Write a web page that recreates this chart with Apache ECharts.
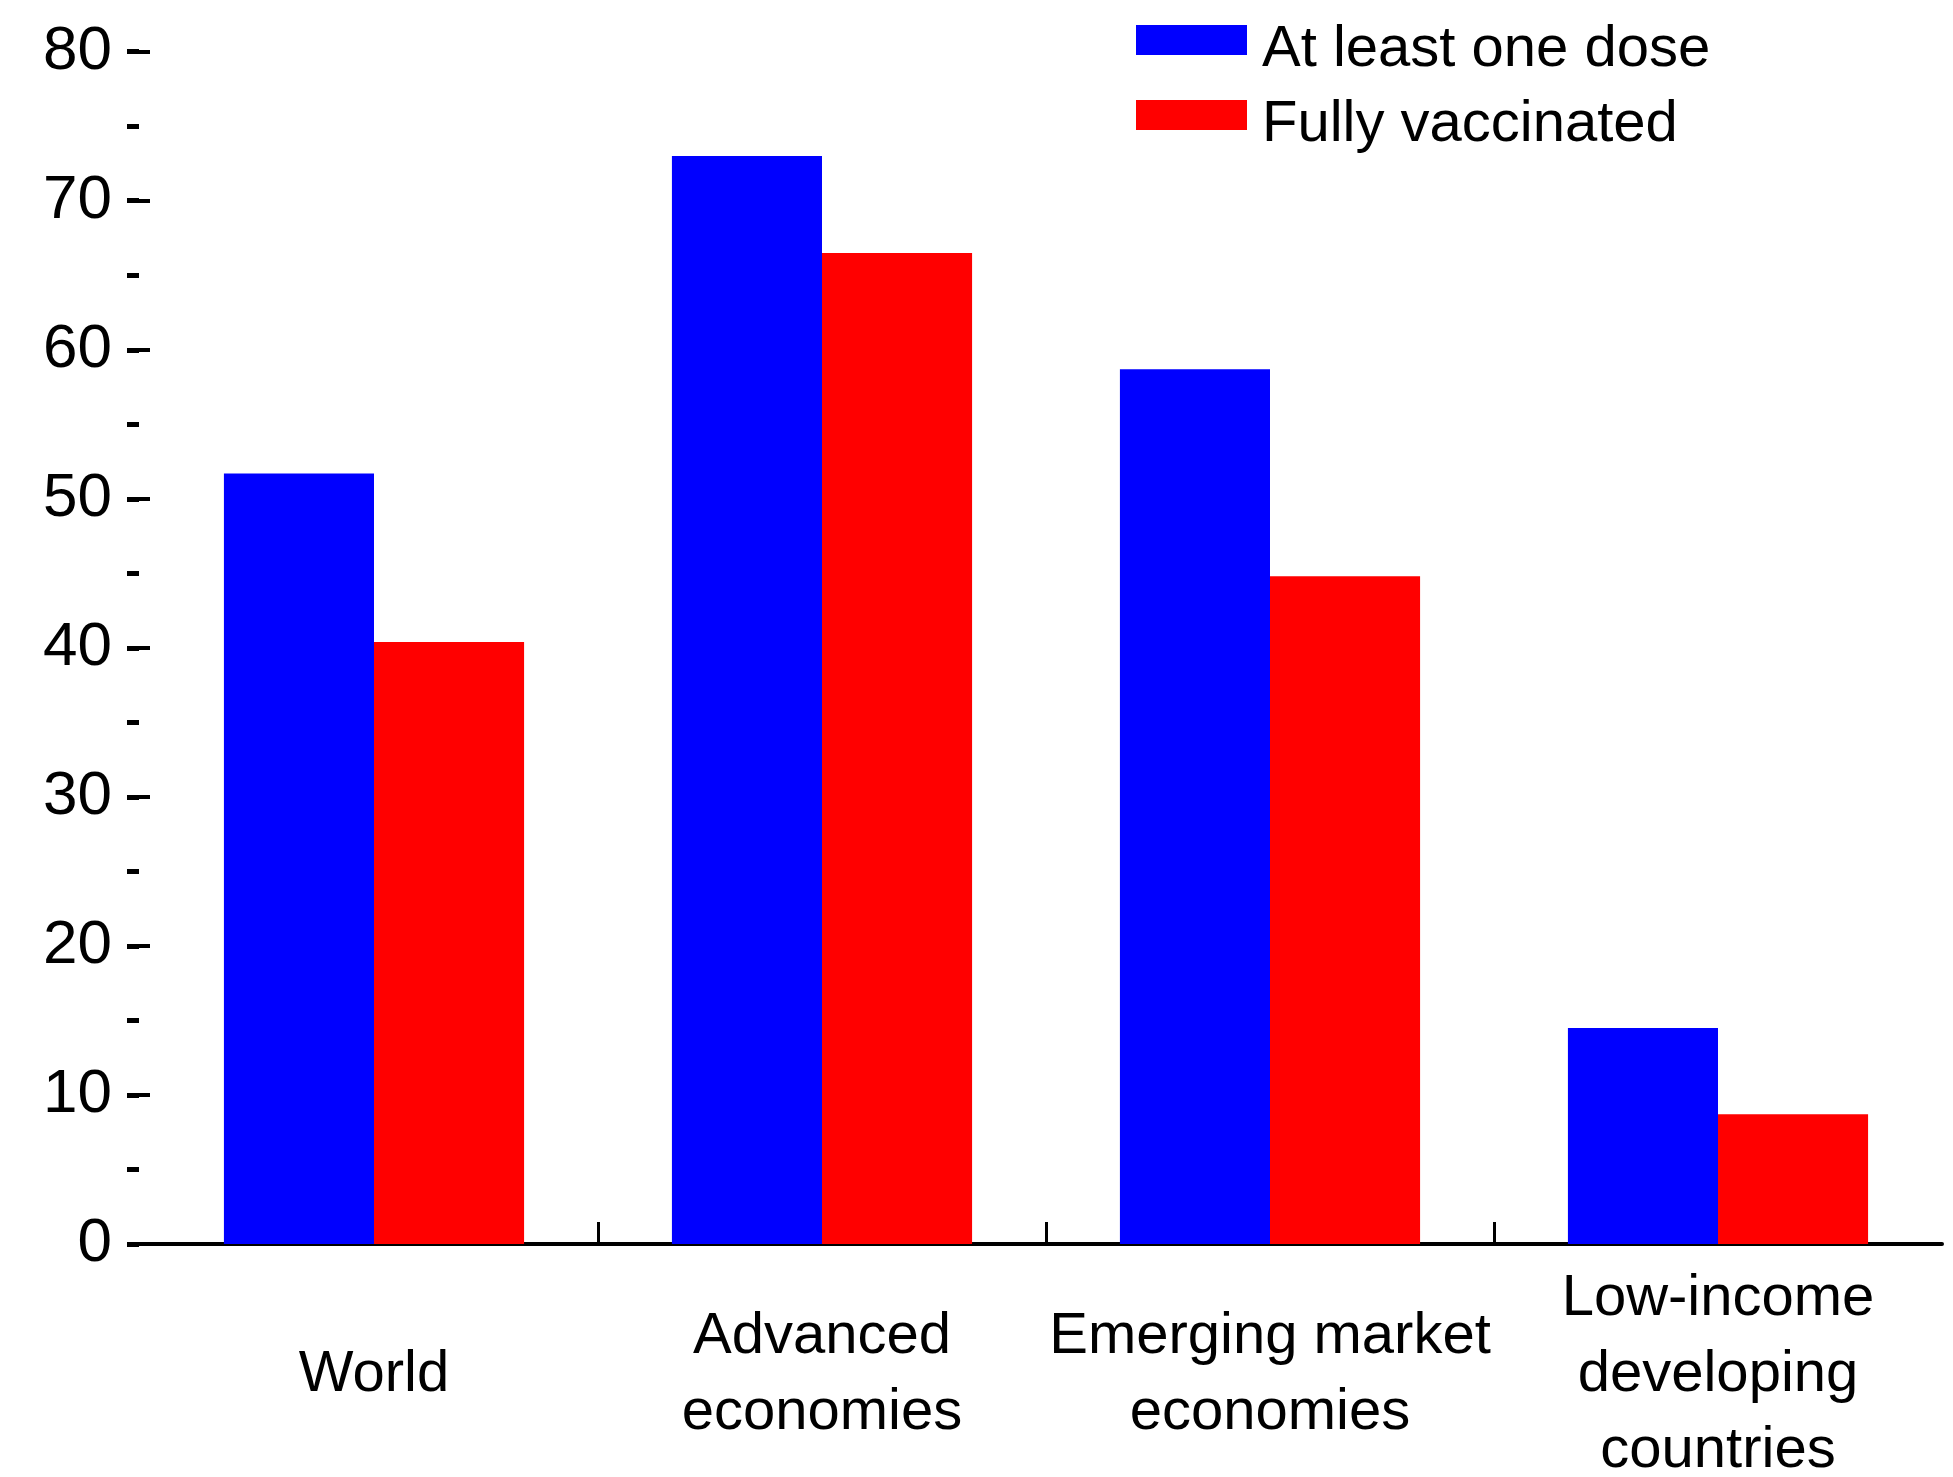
<!DOCTYPE html>
<html>
<head>
<meta charset="utf-8">
<title>COVID-19 vaccination rates</title>
<script src="https://cdn.jsdelivr.net/npm/echarts@6/dist/echarts.min.js"></script>
<style>
  html, body { margin: 0; padding: 0; background: #fff; overflow: hidden; }
  #chart { width: 1953px; height: 1477px; }
</style>
</head>
<body>
<div id="chart"></div>
<script>
// Share of population vaccinated (percent) by country group
const categories = ['World', 'Advanced\neconomies', 'Emerging market\neconomies', 'Low-income\ndeveloping\ncountries'];
const atLeastOneDose = [51.7, 73.0, 58.7, 14.5];
const fullyVaccinated = [40.4, 66.5, 44.8, 8.7];
const seriesNames = ['At least one dose', 'Fully vaccinated'];
const yTicks = { min: 0, max: 80, step: 10, minorStep: 5 };
const groupBoundaries = [1, 2, 3];

const FONT = '"Liberation Sans Narrow", "Arial Narrow", "Liberation Sans", Arial, sans-serif';

const chart = echarts.init(document.getElementById('chart'), null, { renderer: 'canvas' });

// one legend block per series so each row sits at its own height;
// the label is set slightly below the swatch centre
function legendRow(name, top) {
  return {
    orient: 'vertical',
    left: 1136,
    top: top,
    padding: 0,
    itemWidth: 111,
    itemHeight: 30,
    itemGap: 0,
    icon: 'rect',
    data: [name],
    selectedMode: false,
    formatter: '{t|{name}}',
    textStyle: {
      fontFamily: FONT,
      fontSize: 58,
      color: '#000',
      rich: {
        t: {
          fontFamily: FONT,
          fontSize: 58,
          lineHeight: 64,
          color: '#000',
          padding: [20, 0, 0, 10]
        }
      }
    }
  };
}

chart.setOption({
  backgroundColor: '#ffffff',
  animation: false,
  textStyle: { fontFamily: FONT, color: '#000' },
  legend: [legendRow(seriesNames[0], 1), legendRow(seriesNames[1], 76)],
  grid: { left: 150, right: 11, top: 51.7, bottom: 233, containLabel: false, outerBoundsMode: 'none' },
  xAxis: [
    {
      type: 'category',
      data: categories,
      position: 'bottom',
      axisLine: { show: true, lineStyle: { color: '#000', width: 4 } },
      axisTick: { show: false },
      axisLabel: {
        fontFamily: FONT,
        fontSize: 58,
        lineHeight: 76,
        color: '#000',
        margin: 131,
        verticalAlign: 'middle',
        interval: 0
      },
      splitLine: { show: false }
    },
    {
      // group separators drawn as inward ticks
      type: 'value',
      position: 'bottom',
      min: 0,
      max: categories.length,
      interval: 1,
      axisLine: { show: false },
      axisLabel: { show: false },
      splitLine: { show: false },
      axisTick: {
        show: true,
        inside: true,
        length: 22,
        customValues: groupBoundaries,
        lineStyle: { color: '#000', width: 3 }
      }
    }
  ],
  yAxis: [
    {
      type: 'value',
      position: 'left',
      min: yTicks.min,
      max: yTicks.max,
      interval: yTicks.step,
      axisLine: { show: false },
      axisTick: { show: true, inside: false, length: 22, lineStyle: { color: '#000', width: 4 } },
      axisLabel: { fontFamily: FONT, fontSize: 62, color: '#000', margin: 38 },
      splitLine: { show: false }
    },
    {
      // short detached half-step ticks
      type: 'value',
      position: 'left',
      offset: 11,
      min: yTicks.min,
      max: yTicks.max,
      interval: yTicks.minorStep,
      axisLine: { show: false },
      axisTick: { show: true, inside: false, length: 12, lineStyle: { color: '#000', width: 5 } },
      axisLabel: { show: false },
      splitLine: { show: false }
    }
  ],
  series: [
    {
      name: seriesNames[0],
      type: 'bar',
      xAxisIndex: 0,
      yAxisIndex: 0,
      data: atLeastOneDose,
      barGap: '0%',
      barCategoryGap: '33%',
      itemStyle: { color: '#0000ff' }
    },
    {
      name: seriesNames[1],
      type: 'bar',
      xAxisIndex: 0,
      yAxisIndex: 0,
      data: fullyVaccinated,
      barGap: '0%',
      barCategoryGap: '33%',
      itemStyle: { color: '#ff0000' }
    }
  ]
});
</script>
</body>
</html>
